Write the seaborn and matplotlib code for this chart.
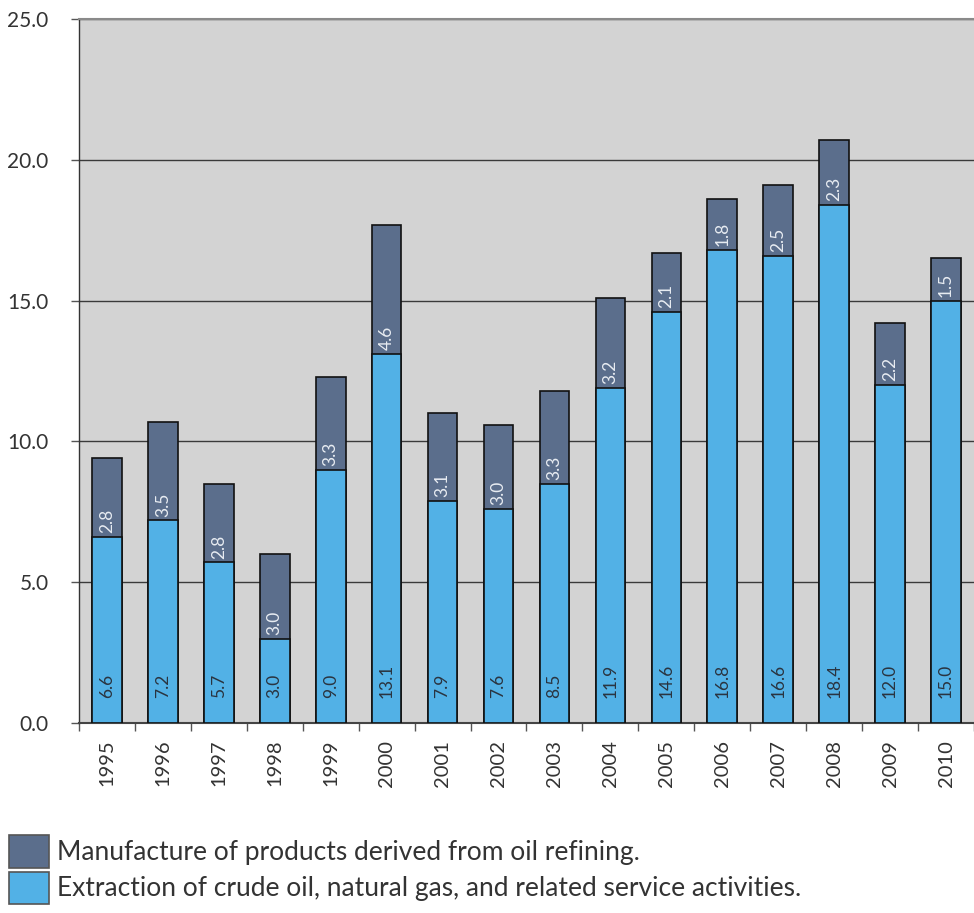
import matplotlib
matplotlib.use("Agg")
import matplotlib.pyplot as plt
from matplotlib.patches import Patch
from matplotlib.ticker import FixedLocator
import seaborn as sns
import pandas as pd

years = ["1995", "1996", "1997", "1998", "1999", "2000", "2001", "2002",
         "2003", "2004", "2005", "2006", "2007", "2008", "2009", "2010"]
extraction = [6.6, 7.2, 5.7, 3.0, 9.0, 13.1, 7.9, 7.6,
              8.5, 11.9, 14.6, 16.8, 16.6, 18.4, 12.0, 15.0]
refining = [2.8, 3.5, 2.8, 3.0, 3.3, 4.6, 3.1, 3.0,
            3.3, 3.2, 2.1, 1.8, 2.5, 2.3, 2.2, 1.5]

label_refining = "Manufacture of products derived from oil refining."
label_extraction = "Extraction of crude oil, natural gas, and related service activities."

col_refining = "#5b6e8c"
col_extraction = "#52b1e6"

df = pd.DataFrame({"year": years, "extraction": extraction, "refining": refining})
df["total"] = df["extraction"] + df["refining"]

sns.set_theme(style="white")
plt.rcParams["font.family"] = ["Lato", "DejaVu Sans"]

fig = plt.figure(figsize=(9.74, 9.13), dpi=100)
ax = fig.add_axes([0.0811, 0.2081, 0.9189, 0.7711])
ax.set_facecolor("#d3d3d3")

# stacked bars: total height in dark, extraction drawn over it in blue
sns.barplot(data=df, x="year", y="total", color=col_refining, saturation=1,
            width=0.53, edgecolor="#111111", linewidth=1.2, ax=ax, zorder=3)
sns.barplot(data=df, x="year", y="extraction", color=col_extraction, saturation=1,
            width=0.53, edgecolor="#111111", linewidth=1.2, ax=ax, zorder=4)

for i, (e, r) in enumerate(zip(extraction, refining)):
    ax.text(i, 0.9, f"{e:.1f}", rotation=90, ha="center", va="bottom",
            fontsize=12.5, color="#2a3440", zorder=5)
    ax.text(i, e + 0.13, f"{r:.1f}", rotation=90, ha="center", va="bottom",
            fontsize=12.5, color="#e8ecf2", zorder=5)

ax.set_xlim(-0.5, len(years) - 0.5)
ax.set_ylim(0, 25)
ax.set_yticks([0, 5, 10, 15, 20, 25])
ax.set_yticklabels([f"{v:.1f}" for v in [0, 5, 10, 15, 20, 25]], fontsize=15,
                   color="#333333")
ax.set_xticks(range(len(years)))
ax.set_xticklabels(years, rotation=90, fontsize=14.5, color="#333333")
ax.xaxis.set_minor_locator(FixedLocator([i - 0.5 for i in range(len(years) + 1)]))
ax.tick_params(axis="x", which="major", length=0, pad=12)
ax.tick_params(axis="x", which="minor", length=6, color="#555555", width=1,
               direction="out", bottom=True)
ax.tick_params(axis="y", which="major", length=6, color="#555555", width=1,
               direction="out", left=True, pad=16)

ax.set_xlabel("")
ax.set_ylabel("")
ax.grid(axis="y", color="#3a3a3a", linewidth=1.0, zorder=1)
ax.set_axisbelow(True)
ax.spines["right"].set_visible(False)
ax.spines["top"].set_color("#8a8a8a")
ax.spines["top"].set_linewidth(1.5)
ax.spines["left"].set_color("#333333")
ax.spines["left"].set_linewidth(1.0)
ax.spines["bottom"].set_color("#444444")
ax.spines["bottom"].set_linewidth(1.5)

handles = [Patch(facecolor=col_refining, edgecolor="#555555", linewidth=1.2),
           Patch(facecolor=col_extraction, edgecolor="#555555", linewidth=1.2)]
fig.legend(handles, [label_refining, label_extraction],
           loc="lower left", bbox_to_anchor=(0.0, 0.0),
           frameon=False, fontsize=19, handlelength=1.5, handleheight=1.5,
           handletextpad=0.3, labelspacing=0.15, borderaxespad=0.15,
           borderpad=0.2, labelcolor="#333333")

fig.savefig("out.png", dpi=100)
